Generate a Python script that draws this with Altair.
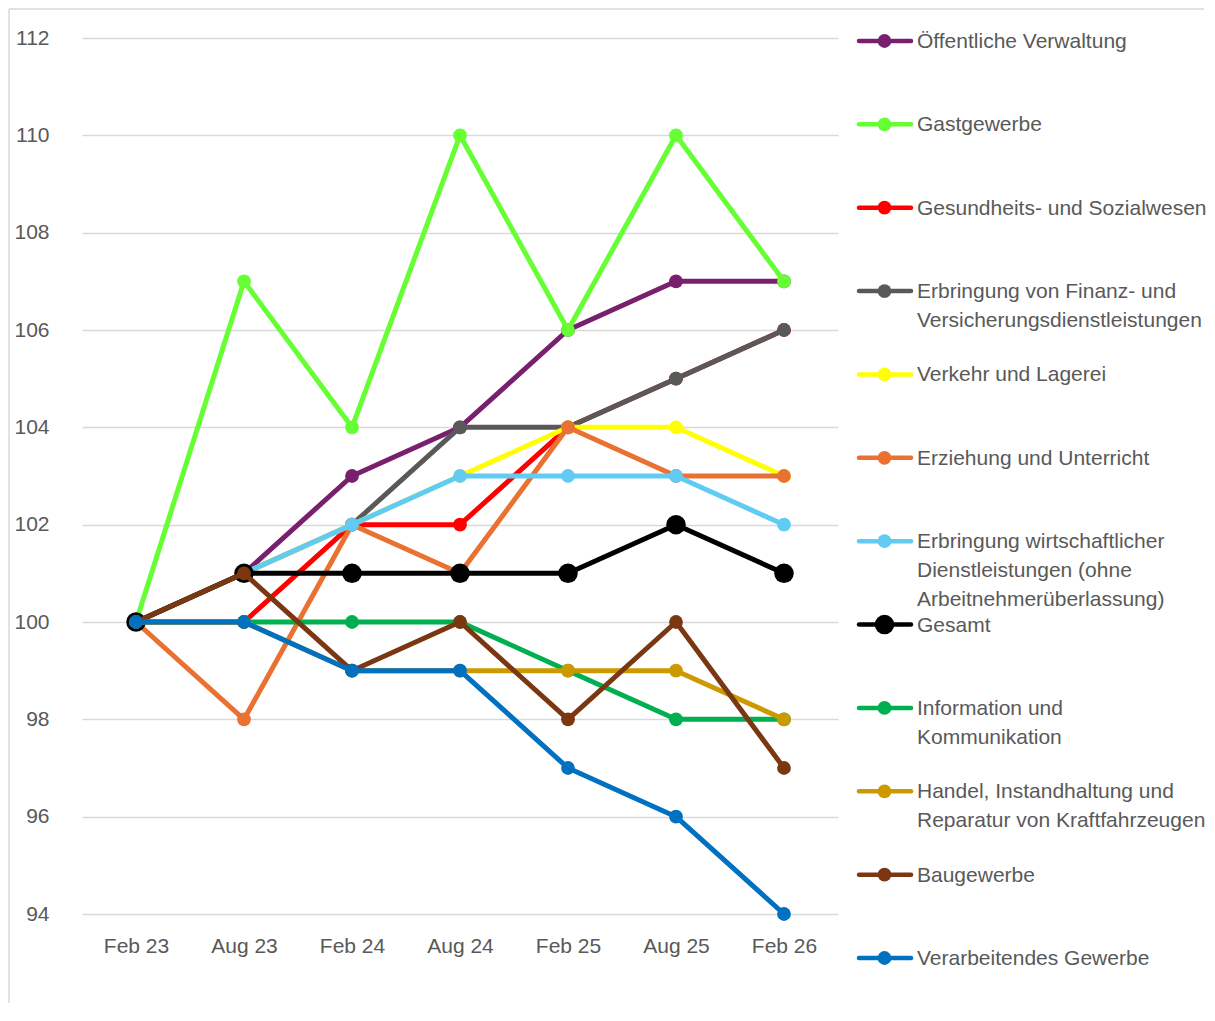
import altair as alt
import pandas as pd

dates = ["Feb 23", "Aug 23", "Feb 24", "Aug 24", "Feb 25", "Aug 25", "Feb 26"]

names = [
    "Öffentliche Verwaltung",
    "Gastgewerbe",
    "Gesundheits- und Sozialwesen",
    "Erbringung von Finanz- und Versicherungsdienstleistungen",
    "Verkehr und Lagerei",
    "Erziehung und Unterricht",
    "Erbringung wirtschaftlicher Dienstleistungen (ohne Arbeitnehmerüberlassung)",
    "Gesamt",
    "Information und Kommunikation",
    "Handel, Instandhaltung und Reparatur von Kraftfahrzeugen",
    "Baugewerbe",
    "Verarbeitendes Gewerbe",
]

legend_labels = [
    "Öffentliche Verwaltung",
    "Gastgewerbe",
    "Gesundheits- und Sozialwesen",
    "Erbringung von Finanz- und\nVersicherungsdienstleistungen",
    "Verkehr und Lagerei",
    "Erziehung und Unterricht",
    "Erbringung wirtschaftlicher\nDienstleistungen (ohne\nArbeitnehmerüberlassung)",
    "Gesamt",
    "Information und\nKommunikation",
    "Handel, Instandhaltung und\nReparatur von Kraftfahrzeugen",
    "Baugewerbe",
    "Verarbeitendes Gewerbe",
]

colors = [
    "#78206E", "#66FF33", "#FF0000", "#595959", "#FFFF00", "#E97132",
    "#61CBF3", "#000000", "#00B050", "#CC9900", "#7B3712", "#0070C0",
]

oeff = [100, 101, 103, 104, 106, 107, 107]
gast = [100, 107, 104, 110, 106, 110, 107]
gesund = [100, 100, 102, 102, 104, 105, 106]
finanz = [100, 101, 102, 104, 104, 105, 106]
verkehr = [100, 101, 102, 103, 104, 104, 103]
erzieh = [100, 98, 102, 101, 104, 103, 103]
wirtsch = [100, 101, 102, 103, 103, 103, 102]
gesamt = [100, 101, 101, 101, 101, 102, 101]
info = [100, 100, 100, 100, 99, 98, 98]
handel = [100, 100, 99, 99, 99, 99, 98]
bau = [100, 101, 99, 100, 98, 100, 97]
verarb = [100, 100, 99, 99, 97, 96, 94]

series = [oeff, gast, gesund, finanz, verkehr, erzieh, wirtsch, gesamt,
          info, handel, bau, verarb]

y_ticks = [94, 96, 98, 100, 102, 104, 106, 108, 110, 112]

rows = []
for name, vals in zip(names, series):
    for i, (d, v) in enumerate(zip(dates, vals)):
        rows.append({"name": name, "date": d, "idx": i, "value": v})
df = pd.DataFrame(rows)

leg_df = pd.DataFrame({"name": names, "label": legend_labels})

FONT = "Liberation Sans"
TXT = "#595959"

color_enc = alt.Color("name:N", scale=alt.Scale(domain=names, range=colors), legend=None)
size_cond = alt.condition(alt.datum.name == "Gesamt", alt.value(380), alt.value(190))

x_enc = alt.X("date:O", sort=dates, scale=alt.Scale(type="point", padding=0.5),
              axis=alt.Axis(title=None, labelAngle=0, domain=False, ticks=False, tickSize=0,
                            labelPadding=21, labelFontSize=21, labelColor=TXT, grid=False))
y_enc = alt.Y("value:Q", scale=alt.Scale(domain=[94, 112], nice=False, zero=False),
              axis=alt.Axis(title=None, values=y_ticks, domain=False, ticks=False, tickSize=0,
                            labelPadding=33, labelFontSize=21, labelColor=TXT,
                            gridColor="#D9D9D9", gridWidth=1.3))

base = alt.Chart(df)
layers = []
for name in names:
    sub = base.transform_filter(alt.datum.name == name)
    layers.append(sub.mark_line(strokeWidth=5, strokeJoin="round", strokeCap="round").encode(
        x=x_enc, y=y_enc, color=color_enc, order=alt.Order("idx:Q")))
    layers.append(sub.mark_point(filled=True, opacity=1).encode(
        x=x_enc, y=y_enc, color=color_enc, size=size_cond))

# chart-area frame (decoration)
border_src = alt.Chart(pd.DataFrame({"k": [0]}))
frame_top = border_src.mark_rule(color="#D9D9D9", strokeWidth=1.5).encode(
    x=alt.value(-73), x2=alt.value(1122), y=alt.value(-29))
frame_left = border_src.mark_rule(color="#D9D9D9", strokeWidth=1.5).encode(
    x=alt.value(-73), y=alt.value(-29), y2=alt.value(965))

main = alt.layer(frame_top, frame_left, *layers).properties(width=756, height=876)

ly = alt.Y("name:N", sort=names, scale=alt.Scale(type="point", padding=0, range=[3, 920]), axis=None)
leg_base = alt.Chart(leg_df)
leg_rule = leg_base.mark_rule(strokeWidth=4.5, strokeCap="round").encode(
    y=ly, x=alt.value(2), x2=alt.value(54), color=color_enc)
leg_pt = leg_base.mark_point(filled=True, opacity=1).encode(
    y=ly, x=alt.value(27.5), color=color_enc, size=size_cond)
leg_txt = leg_base.mark_text(align="left", baseline="top", dy=-10, lineBreak="\n",
                             fontSize=21, lineHeight=29, color=TXT, font=FONT).encode(
    y=ly, x=alt.value(60), text="label:N")
legend = alt.layer(leg_rule, leg_pt, leg_txt).properties(width=60, height=876)

chart = alt.hconcat(main, legend, spacing=19, bounds="flush").resolve_scale(
    y="independent", color="shared"
).properties(
    padding={"left": 0, "top": 0, "right": 0, "bottom": 0}
).configure(font=FONT).configure_view(stroke=None)

chart.save("out.html", embed_options={"renderer": "svg", "actions": False})
